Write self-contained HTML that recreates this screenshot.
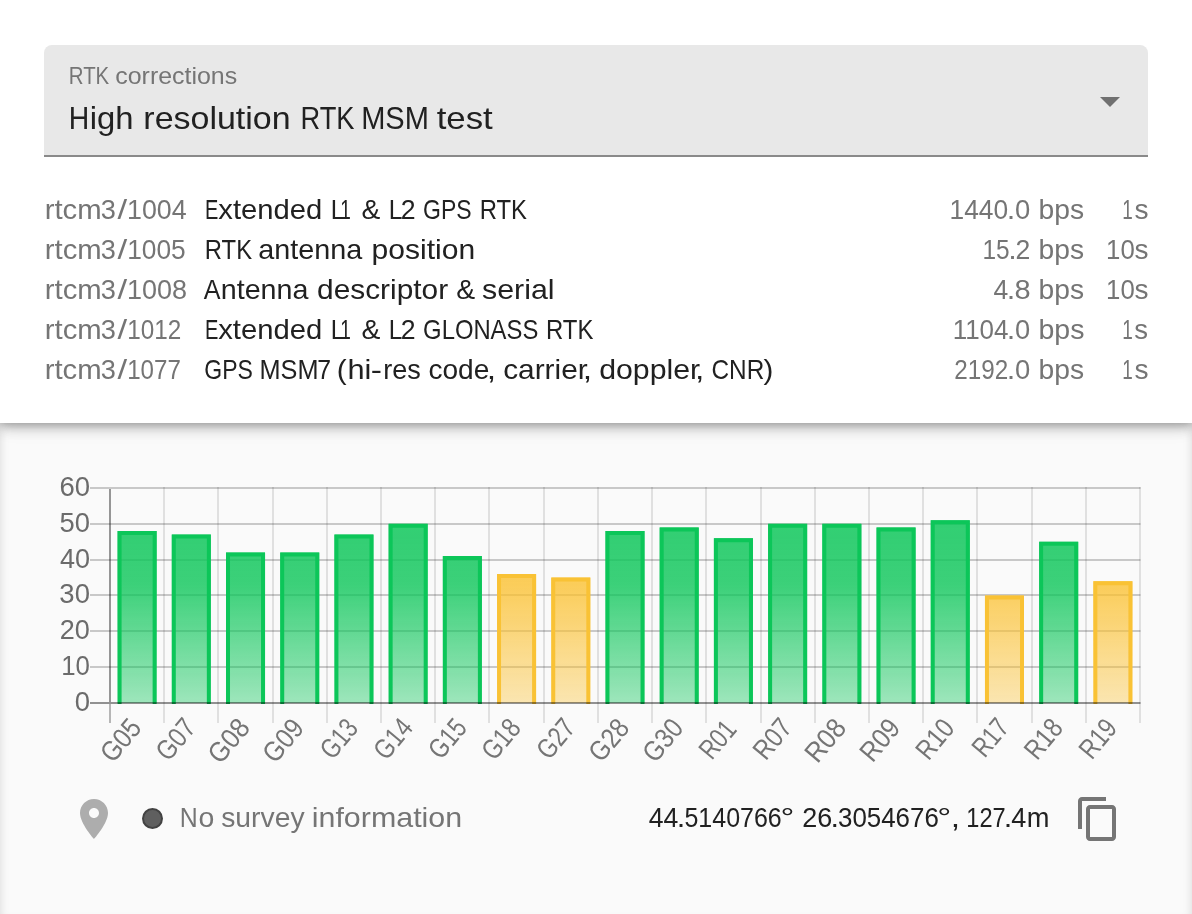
<!DOCTYPE html>
<html><head><meta charset="utf-8"><title>RTK</title>
<style>
html,body{margin:0;padding:0}
body{width:1192px;height:914px;overflow:hidden;background:#fafafa;font-family:"Liberation Sans",sans-serif;position:relative}
.low{position:absolute;left:0;top:423px;width:1192px;height:498px;background:#fafafa;box-shadow:inset 0 0 10px rgba(0,0,0,.14)}
.card{position:absolute;left:0;top:0;width:1192px;height:423px;background:#fff;box-shadow:0 4px 8px -2px rgba(0,0,0,.16),0 8px 10px 0 rgba(0,0,0,.11),0 2px 20px 0 rgba(0,0,0,.1)}
.sel{position:absolute;left:44px;top:45px;width:1104px;height:110px;background:#e8e8e8;border-radius:8px 8px 0 0;border-bottom:2px solid #8a8a8a}
.arrow{position:absolute;left:1100px;top:97px;width:0;height:0;border-left:10px solid transparent;border-right:10px solid transparent;border-top:10px solid #707070}
.layer{position:absolute;left:0;top:0;width:1192px;height:914px;will-change:transform}
.t{position:absolute;line-height:40px;white-space:pre}
.ln{position:absolute;left:0;width:0;height:0;line-height:40px;white-space:nowrap}
.w{position:absolute;left:0;top:0;line-height:40px;white-space:pre;transform-origin:0 0}
.chart{position:absolute;left:0;top:423px}
.xl{font-family:"Liberation Sans",sans-serif;font-size:28px;fill:#757575}
.pin{position:absolute;left:70px;top:795px;width:48px;height:48px}
.dot{position:absolute;left:142px;top:808px;width:17px;height:17px;border-radius:50%;background:#5f5f5f;border:2px solid #424242}
.copy{position:absolute;left:1074px;top:795px;width:48px;height:48px}
</style></head><body>
<div class="low"></div>
<div class="card"></div>
<div class="sel"></div>
<div class="arrow"></div>
<div class="layer">
<svg class="chart" width="1192" height="491" viewBox="0 423 1192 491">
<defs><linearGradient id="gg" gradientUnits="userSpaceOnUse" x1="0" y1="488" x2="0" y2="703"><stop offset="0" stop-color="#0cc659" stop-opacity="0.87"/><stop offset="0.45" stop-color="#0cc659" stop-opacity="0.8"/><stop offset="1" stop-color="#0cc659" stop-opacity="0.39"/></linearGradient><linearGradient id="gy" gradientUnits="userSpaceOnUse" x1="0" y1="488" x2="0" y2="703"><stop offset="0" stop-color="#fbc02d" stop-opacity="0.86"/><stop offset="0.45" stop-color="#fbc02d" stop-opacity="0.78"/><stop offset="1" stop-color="#fbc02d" stop-opacity="0.36"/></linearGradient></defs>
<rect x="109" y="704" width="2" height="19" fill="#000" fill-opacity="0.27"/>
<rect x="163" y="487" width="2" height="236" fill="#000" fill-opacity="0.1"/>
<rect x="217" y="487" width="2" height="236" fill="#000" fill-opacity="0.1"/>
<rect x="272" y="487" width="2" height="236" fill="#000" fill-opacity="0.1"/>
<rect x="326" y="487" width="2" height="236" fill="#000" fill-opacity="0.1"/>
<rect x="380" y="487" width="2" height="236" fill="#000" fill-opacity="0.1"/>
<rect x="434" y="487" width="2" height="236" fill="#000" fill-opacity="0.1"/>
<rect x="488" y="487" width="2" height="236" fill="#000" fill-opacity="0.1"/>
<rect x="543" y="487" width="2" height="236" fill="#000" fill-opacity="0.1"/>
<rect x="597" y="487" width="2" height="236" fill="#000" fill-opacity="0.1"/>
<rect x="651" y="487" width="2" height="236" fill="#000" fill-opacity="0.1"/>
<rect x="705" y="487" width="2" height="236" fill="#000" fill-opacity="0.1"/>
<rect x="760" y="487" width="2" height="236" fill="#000" fill-opacity="0.1"/>
<rect x="814" y="487" width="2" height="236" fill="#000" fill-opacity="0.1"/>
<rect x="868" y="487" width="2" height="236" fill="#000" fill-opacity="0.1"/>
<rect x="922" y="487" width="2" height="236" fill="#000" fill-opacity="0.1"/>
<rect x="976" y="487" width="2" height="236" fill="#000" fill-opacity="0.1"/>
<rect x="1031" y="487" width="2" height="236" fill="#000" fill-opacity="0.1"/>
<rect x="1085" y="487" width="2" height="236" fill="#000" fill-opacity="0.1"/>
<rect x="1139" y="487" width="2" height="236" fill="#000" fill-opacity="0.1"/>
<rect x="90" y="666" width="1050.5" height="2" fill="#000" fill-opacity="0.2"/>
<rect x="90" y="630" width="1050.5" height="2" fill="#000" fill-opacity="0.2"/>
<rect x="90" y="594" width="1050.5" height="2" fill="#000" fill-opacity="0.2"/>
<rect x="90" y="559" width="1050.5" height="2" fill="#000" fill-opacity="0.2"/>
<rect x="90" y="523" width="1050.5" height="2" fill="#000" fill-opacity="0.2"/>
<rect x="90" y="487" width="1050.5" height="2" fill="#000" fill-opacity="0.2"/>
<rect x="117.59" y="531.00" width="39.03" height="172.00" fill="url(#gg)"/>
<path d="M119.59 704.00V533.00H154.62V704.00" fill="none" stroke="#0cc659" stroke-width="4"/>
<rect x="171.80" y="534.58" width="39.03" height="168.42" fill="url(#gg)"/>
<path d="M173.80 704.00V536.58H208.83V704.00" fill="none" stroke="#0cc659" stroke-width="4"/>
<rect x="226.01" y="552.50" width="39.03" height="150.50" fill="url(#gg)"/>
<path d="M228.01 704.00V554.50H263.04V704.00" fill="none" stroke="#0cc659" stroke-width="4"/>
<rect x="280.22" y="552.50" width="39.03" height="150.50" fill="url(#gg)"/>
<path d="M282.22 704.00V554.50H317.25V704.00" fill="none" stroke="#0cc659" stroke-width="4"/>
<rect x="334.43" y="534.58" width="39.03" height="168.42" fill="url(#gg)"/>
<path d="M336.43 704.00V536.58H371.46V704.00" fill="none" stroke="#0cc659" stroke-width="4"/>
<rect x="388.64" y="523.83" width="39.03" height="179.17" fill="url(#gg)"/>
<path d="M390.64 704.00V525.83H425.67V704.00" fill="none" stroke="#0cc659" stroke-width="4"/>
<rect x="442.85" y="556.08" width="39.03" height="146.92" fill="url(#gg)"/>
<path d="M444.85 704.00V558.08H479.88V704.00" fill="none" stroke="#0cc659" stroke-width="4"/>
<rect x="497.06" y="574.00" width="39.03" height="129.00" fill="url(#gy)"/>
<path d="M499.06 704.00V576.00H534.09V704.00" fill="none" stroke="#f9c235" stroke-width="4"/>
<rect x="551.27" y="577.58" width="39.03" height="125.42" fill="url(#gy)"/>
<path d="M553.27 704.00V579.58H588.31V704.00" fill="none" stroke="#f9c235" stroke-width="4"/>
<rect x="605.48" y="531.00" width="39.03" height="172.00" fill="url(#gg)"/>
<path d="M607.48 704.00V533.00H642.52V704.00" fill="none" stroke="#0cc659" stroke-width="4"/>
<rect x="659.69" y="527.42" width="39.03" height="175.58" fill="url(#gg)"/>
<path d="M661.69 704.00V529.42H696.73V704.00" fill="none" stroke="#0cc659" stroke-width="4"/>
<rect x="713.91" y="538.17" width="39.03" height="164.83" fill="url(#gg)"/>
<path d="M715.91 704.00V540.17H750.94V704.00" fill="none" stroke="#0cc659" stroke-width="4"/>
<rect x="768.12" y="523.83" width="39.03" height="179.17" fill="url(#gg)"/>
<path d="M770.12 704.00V525.83H805.15V704.00" fill="none" stroke="#0cc659" stroke-width="4"/>
<rect x="822.33" y="523.83" width="39.03" height="179.17" fill="url(#gg)"/>
<path d="M824.33 704.00V525.83H859.36V704.00" fill="none" stroke="#0cc659" stroke-width="4"/>
<rect x="876.54" y="527.42" width="39.03" height="175.58" fill="url(#gg)"/>
<path d="M878.54 704.00V529.42H913.57V704.00" fill="none" stroke="#0cc659" stroke-width="4"/>
<rect x="930.75" y="520.25" width="39.03" height="182.75" fill="url(#gg)"/>
<path d="M932.75 704.00V522.25H967.78V704.00" fill="none" stroke="#0cc659" stroke-width="4"/>
<rect x="984.96" y="595.50" width="39.03" height="107.50" fill="url(#gy)"/>
<path d="M986.96 704.00V597.50H1021.99V704.00" fill="none" stroke="#f9c235" stroke-width="4"/>
<rect x="1039.17" y="541.75" width="39.03" height="161.25" fill="url(#gg)"/>
<path d="M1041.17 704.00V543.75H1076.20V704.00" fill="none" stroke="#0cc659" stroke-width="4"/>
<rect x="1093.38" y="581.17" width="39.03" height="121.83" fill="url(#gy)"/>
<path d="M1095.38 704.00V583.17H1130.41V704.00" fill="none" stroke="#f9c235" stroke-width="4"/>
<rect x="109" y="489" width="2" height="213" fill="#000" fill-opacity="0.4"/>
<rect x="90" y="702" width="1050.5" height="2" fill="#000" fill-opacity="0.42"/>
<text class="xl" x="-0.46" transform="translate(143.11 728.20) rotate(-50) scale(0.8783 1)" text-anchor="end">G05</text>
<text class="xl" x="-0.16" transform="translate(197.32 728.20) rotate(-50) scale(0.8419 1)" text-anchor="end">G07</text>
<text class="xl" x="-0.52" transform="translate(251.53 728.20) rotate(-50) scale(0.9039 1)" text-anchor="end">G08</text>
<text class="xl" x="-0.72" transform="translate(305.74 728.20) rotate(-50) scale(0.8814 1)" text-anchor="end">G09</text>
<text class="xl" x="-1.06" transform="translate(359.95 728.20) rotate(-50) scale(0.7859 1)" text-anchor="end">G13</text>
<text class="xl" x="0.01" transform="translate(414.16 728.20) rotate(-50) scale(0.8199 1)" text-anchor="end">G14</text>
<text class="xl" x="-0.56" transform="translate(468.37 728.20) rotate(-50) scale(0.7944 1)" text-anchor="end">G15</text>
<text class="xl" x="-0.64" transform="translate(522.58 728.20) rotate(-50) scale(0.8199 1)" text-anchor="end">G18</text>
<text class="xl" x="-0.19" transform="translate(576.79 728.20) rotate(-50) scale(0.8075 1)" text-anchor="end">G27</text>
<text class="xl" x="-0.57" transform="translate(631.00 728.20) rotate(-50) scale(0.8641 1)" text-anchor="end">G28</text>
<text class="xl" x="-0.79" transform="translate(685.21 728.20) rotate(-50) scale(0.8717 1)" text-anchor="end">G30</text>
<text class="xl" x="-3.16" transform="translate(739.42 728.20) rotate(-50) scale(0.7875 1)" text-anchor="end">R01</text>
<text class="xl" x="-0.16" transform="translate(793.63 728.20) rotate(-50) scale(0.8442 1)" text-anchor="end">R07</text>
<text class="xl" x="-0.52" transform="translate(847.84 728.20) rotate(-50) scale(0.9095 1)" text-anchor="end">R08</text>
<text class="xl" x="-0.71" transform="translate(902.05 728.20) rotate(-50) scale(0.8858 1)" text-anchor="end">R09</text>
<text class="xl" x="-0.86" transform="translate(956.26 728.20) rotate(-50) scale(0.8297 1)" text-anchor="end">R10</text>
<text class="xl" x="-0.23" transform="translate(1010.47 728.20) rotate(-50) scale(0.7759 1)" text-anchor="end">R17</text>
<text class="xl" x="-0.62" transform="translate(1064.68 728.20) rotate(-50) scale(0.8297 1)" text-anchor="end">R18</text>
<text class="xl" x="-0.83" transform="translate(1118.89 728.20) rotate(-50) scale(0.8118 1)" text-anchor="end">R19</text>
</svg>
<div class="ln" style="top:56px;font-size:24px;color:#757575"><span class="w" style="transform:translate(68.75px,0.28px) scaleX(0.8512)">RTK</span> <span class="w" style="transform:translate(115.26px,0.28px) scaleX(1.0387)">corrections</span></div>
<div class="ln" style="top:97px;font-size:32px;color:#212121"><span class="w" style="transform:translate(68.80px,0.51px) scaleX(0.8868)">H</span><span class="w" style="transform:translate(89.66px,0.51px) scaleX(1.0257)">igh</span> <span class="w" style="transform:translate(143.35px,0.51px) scaleX(1.0614)">resolution</span> <span class="w" style="transform:translate(300.47px,0.51px) scaleX(0.8515)">RTK</span> <span class="w" style="transform:translate(361.18px,0.51px) scaleX(0.9071)">MSM</span> <span class="w" style="transform:translate(436.71px,0.51px) scaleX(1.0868)">test</span></div>
<div class="ln" style="top:189px;font-size:28px;color:#757575"><span class="w" style="transform:translate(44.71px,0.79px) scaleX(1.0458)">rtcm</span><span class="w" style="transform:translate(100.73px,0.79px) scaleX(0.9702)">3</span><span class="w" style="transform:translate(117.59px,0.79px) scaleX(1.2355)">/</span><span class="w" style="transform:translate(127.03px,0.79px) scaleX(0.9573)">1004</span></div>
<div class="ln" style="top:189px;font-size:28px;color:#212121"><span class="w" style="transform:translate(205.11px,0.79px) scaleX(0.7139)">E</span><span class="w" style="transform:translate(218.28px,0.79px) scaleX(1.0431)">xtended</span> <span class="w" style="transform:translate(330.84px,0.79px) scaleX(0.8798)">L</span><span class="w" style="transform:translate(340.23px,0.79px) scaleX(0.6777)">1</span> <span class="w" style="transform:translate(361.51px,0.79px) scaleX(1.0060)">&amp;</span> <span class="w" style="transform:translate(388.68px,0.79px) scaleX(0.8798)">L</span><span class="w" style="transform:translate(400.81px,0.79px) scaleX(0.9525)">2</span> <span class="w" style="transform:translate(423.08px,0.79px) scaleX(0.8210)">GPS</span> <span class="w" style="transform:translate(479.70px,0.79px) scaleX(0.8528)">RTK</span></div>
<div class="ln" style="top:189px;font-size:28px;color:#757575"><span class="w" style="transform:translate(949.52px,0.79px) scaleX(0.9405)">1440</span><span class="w" style="transform:translate(1006.76px,0.79px) scaleX(1.0938)">.</span><span class="w" style="transform:translate(1014.91px,0.79px) scaleX(0.9782)">0</span> <span class="w" style="transform:translate(1038.56px,0.79px) scaleX(1.0095)">bps</span></div>
<div class="ln" style="top:189px;font-size:28px;color:#757575"><span class="w" style="transform:translate(1122.34px,0.79px) scaleX(0.6745)">1</span><span class="w" style="transform:translate(1134.39px,0.79px) scaleX(1.0035)">s</span></div>
<div class="ln" style="top:229px;font-size:28px;color:#757575"><span class="w" style="transform:translate(44.76px,0.79px) scaleX(1.0447)">rtcm</span><span class="w" style="transform:translate(100.78px,0.79px) scaleX(0.9677)">3</span><span class="w" style="transform:translate(117.55px,0.79px) scaleX(1.2425)">/</span><span class="w" style="transform:translate(127.13px,0.79px) scaleX(0.9400)">1005</span></div>
<div class="ln" style="top:229px;font-size:28px;color:#212121"><span class="w" style="transform:translate(204.80px,0.79px) scaleX(0.8508)">RTK</span> <span class="w" style="transform:translate(258.30px,0.79px) scaleX(1.0275)">antenna</span> <span class="w" style="transform:translate(371.51px,0.79px) scaleX(1.0742)">position</span></div>
<div class="ln" style="top:229px;font-size:28px;color:#757575"><span class="w" style="transform:translate(982.50px,0.79px) scaleX(0.8734)">15</span><span class="w" style="transform:translate(1008.19px,0.79px) scaleX(1.0938)">.</span><span class="w" style="transform:translate(1015.55px,0.79px) scaleX(0.9511)">2</span> <span class="w" style="transform:translate(1038.61px,0.79px) scaleX(1.0081)">bps</span></div>
<div class="ln" style="top:229px;font-size:28px;color:#757575"><span class="w" style="transform:translate(1106.12px,0.79px) scaleX(0.9202)">10</span><span class="w" style="transform:translate(1134.45px,0.79px) scaleX(0.9992)">s</span></div>
<div class="ln" style="top:269px;font-size:28px;color:#757575"><span class="w" style="transform:translate(44.76px,0.79px) scaleX(1.0453)">rtcm</span><span class="w" style="transform:translate(100.70px,0.79px) scaleX(0.9711)">3</span><span class="w" style="transform:translate(117.57px,0.79px) scaleX(1.2346)">/</span><span class="w" style="transform:translate(127.06px,0.79px) scaleX(0.9641)">1008</span></div>
<div class="ln" style="top:269px;font-size:28px;color:#212121"><span class="w" style="transform:translate(203.84px,0.79px) scaleX(0.8954)">A</span><span class="w" style="transform:translate(220.77px,0.79px) scaleX(1.0238)">ntenna</span> <span class="w" style="transform:translate(317.05px,0.79px) scaleX(1.0657)">descriptor</span> <span class="w" style="transform:translate(456.17px,0.79px) scaleX(1.0122)">&amp;</span> <span class="w" style="transform:translate(482.01px,0.79px) scaleX(1.0837)">serial</span></div>
<div class="ln" style="top:269px;font-size:28px;color:#757575"><span class="w" style="transform:translate(993.52px,0.79px) scaleX(0.9475)">4</span><span class="w" style="transform:translate(1006.67px,0.79px) scaleX(1.0938)">.</span><span class="w" style="transform:translate(1014.42px,0.79px) scaleX(1.0344)">8</span> <span class="w" style="transform:translate(1038.61px,0.79px) scaleX(1.0081)">bps</span></div>
<div class="ln" style="top:269px;font-size:28px;color:#757575"><span class="w" style="transform:translate(1106.12px,0.79px) scaleX(0.9202)">10</span><span class="w" style="transform:translate(1134.45px,0.79px) scaleX(0.9992)">s</span></div>
<div class="ln" style="top:309px;font-size:28px;color:#757575"><span class="w" style="transform:translate(44.76px,0.79px) scaleX(1.0453)">rtcm</span><span class="w" style="transform:translate(100.70px,0.79px) scaleX(0.9711)">3</span><span class="w" style="transform:translate(117.57px,0.79px) scaleX(1.2346)">/</span><span class="w" style="transform:translate(127.19px,0.79px) scaleX(0.8669)">1012</span></div>
<div class="ln" style="top:309px;font-size:28px;color:#212121"><span class="w" style="transform:translate(205.07px,0.79px) scaleX(0.7157)">E</span><span class="w" style="transform:translate(218.26px,0.79px) scaleX(1.0436)">xtended</span> <span class="w" style="transform:translate(330.66px,0.79px) scaleX(0.8735)">L</span><span class="w" style="transform:translate(340.16px,0.79px) scaleX(0.6801)">1</span> <span class="w" style="transform:translate(361.41px,0.79px) scaleX(1.0095)">&amp;</span> <span class="w" style="transform:translate(388.79px,0.79px) scaleX(0.8735)">L</span><span class="w" style="transform:translate(400.81px,0.79px) scaleX(0.9508)">2</span> <span class="w" style="transform:translate(423.12px,0.79px) scaleX(0.8506)">GLONASS</span> <span class="w" style="transform:translate(546.04px,0.79px) scaleX(0.8538)">RTK</span></div>
<div class="ln" style="top:309px;font-size:28px;color:#757575"><span class="w" style="transform:translate(952.63px,0.79px) scaleX(0.9283)">1104</span><span class="w" style="transform:translate(1006.71px,0.79px) scaleX(1.0938)">.</span><span class="w" style="transform:translate(1014.93px,0.79px) scaleX(0.9740)">0</span> <span class="w" style="transform:translate(1038.50px,0.79px) scaleX(1.0182)">bps</span></div>
<div class="ln" style="top:309px;font-size:28px;color:#757575"><span class="w" style="transform:translate(1122.27px,0.79px) scaleX(0.6773)">1</span><span class="w" style="transform:translate(1134.33px,0.79px) scaleX(0.9832)">s</span></div>
<div class="ln" style="top:349px;font-size:28px;color:#757575"><span class="w" style="transform:translate(44.71px,0.79px) scaleX(1.0458)">rtcm</span><span class="w" style="transform:translate(100.73px,0.79px) scaleX(0.9702)">3</span><span class="w" style="transform:translate(117.59px,0.79px) scaleX(1.2355)">/</span><span class="w" style="transform:translate(127.17px,0.79px) scaleX(0.8612)">1077</span></div>
<div class="ln" style="top:349px;font-size:28px;color:#212121"><span class="w" style="transform:translate(204.32px,0.79px) scaleX(0.8212)">GPS</span> <span class="w" style="transform:translate(259.51px,0.79px) scaleX(0.9022)">MSM</span><span class="w" style="transform:translate(317.15px,0.79px) scaleX(0.8844)">7</span> <span class="w" style="transform:translate(336.76px,0.79px) scaleX(1.0590)">(</span><span class="w" style="transform:translate(347.46px,0.79px) scaleX(1.0977)">hi</span><span class="w" style="transform:translate(370.87px,0.79px) scaleX(1.2025)">-</span><span class="w" style="transform:translate(383.21px,0.79px) scaleX(0.9660)">res</span> <span class="w" style="transform:translate(428.39px,0.79px) scaleX(1.0029)">code</span><span class="w" style="transform:translate(486.67px,0.79px) scaleX(1.2031)">,</span> <span class="w" style="transform:translate(503.15px,0.79px) scaleX(1.0659)">carrier</span><span class="w" style="transform:translate(582.71px,0.79px) scaleX(1.2031)">,</span> <span class="w" style="transform:translate(599.18px,0.79px) scaleX(1.0814)">doppler</span><span class="w" style="transform:translate(695.07px,0.79px) scaleX(1.2031)">,</span> <span class="w" style="transform:translate(711.50px,0.79px) scaleX(0.8693)">CNR</span><span class="w" style="transform:translate(763.42px,0.79px) scaleX(1.0526)">)</span></div>
<div class="ln" style="top:349px;font-size:28px;color:#757575"><span class="w" style="transform:translate(954.18px,0.79px) scaleX(0.8666)">2192</span><span class="w" style="transform:translate(1006.76px,0.79px) scaleX(1.0938)">.</span><span class="w" style="transform:translate(1014.91px,0.79px) scaleX(0.9782)">0</span> <span class="w" style="transform:translate(1038.56px,0.79px) scaleX(1.0095)">bps</span></div>
<div class="ln" style="top:349px;font-size:28px;color:#757575"><span class="w" style="transform:translate(1122.34px,0.79px) scaleX(0.6745)">1</span><span class="w" style="transform:translate(1134.39px,0.79px) scaleX(1.0035)">s</span></div>
<div class="ln" style="top:798px;font-size:28px;color:#757575"><span class="w" style="transform:translate(179.76px,0.19px) scaleX(0.8880)">N</span><span class="w" style="transform:translate(198.38px,0.19px) scaleX(1.0156)">o</span> <span class="w" style="transform:translate(221.21px,0.19px) scaleX(1.0106)">survey</span> <span class="w" style="transform:translate(311.75px,0.19px) scaleX(1.0858)">information</span></div>
<div class="ln" style="top:798px;font-size:28px;color:#212121"><span class="w" style="transform:translate(648.71px,0.19px) scaleX(0.9506)">44</span><span class="w" style="transform:translate(676.73px,0.19px) scaleX(1.0938)">.</span><span class="w" style="transform:translate(684.43px,0.19px) scaleX(0.8926)">5140766</span><span class="w" style="transform:translate(780.52px,0.19px) scaleX(1.2396)">°</span> <span class="w" style="transform:translate(802.34px,0.19px) scaleX(0.9640)">26</span><span class="w" style="transform:translate(830.58px,0.19px) scaleX(1.0938)">.</span><span class="w" style="transform:translate(837.98px,0.19px) scaleX(0.9250)">3054676</span><span class="w" style="transform:translate(937.17px,0.19px) scaleX(1.2520)">°</span><span class="w" style="transform:translate(950.65px,0.19px) scaleX(1.2031)">,</span> <span class="w" style="transform:translate(966.30px,0.19px) scaleX(0.8416)">127</span><span class="w" style="transform:translate(1003.83px,0.19px) scaleX(1.0938)">.</span><span class="w" style="transform:translate(1011.19px,0.19px) scaleX(0.9653)">4</span><span class="w" style="transform:translate(1026.64px,0.19px) scaleX(0.9729)">m</span></div>
<div class="ln" style="top:681px;font-size:28px;color:#6b6b6b"><span class="w" style="transform:translate(74.81px,0.89px) scaleX(0.9802)">0</span></div>
<div class="ln" style="top:646px;font-size:28px;color:#6b6b6b"><span class="w" style="transform:translate(61.21px,0.06px) scaleX(0.9220)">10</span></div>
<div class="ln" style="top:610px;font-size:28px;color:#6b6b6b"><span class="w" style="transform:translate(59.78px,0.23px) scaleX(0.9655)">20</span></div>
<div class="ln" style="top:574px;font-size:28px;color:#6b6b6b"><span class="w" style="transform:translate(59.37px,0.39px) scaleX(0.9814)">30</span></div>
<div class="ln" style="top:538px;font-size:28px;color:#6b6b6b"><span class="w" style="transform:translate(59.95px,0.56px) scaleX(0.9659)">40</span></div>
<div class="ln" style="top:502px;font-size:28px;color:#6b6b6b"><span class="w" style="transform:translate(59.47px,0.73px) scaleX(0.9789)">50</span></div>
<div class="ln" style="top:466px;font-size:28px;color:#6b6b6b"><span class="w" style="transform:translate(59.48px,0.89px) scaleX(0.9827)">60</span></div>
</div>
<svg class="pin" viewBox="0 0 24 24"><path fill="#adadad" d="M12 2C8.13 2 5 5.13 5 9c0 5.25 7 13 7 13s7-7.750 7-13c0-3.870-3.130-7-7-7zm0 9.500c-1.380 0-2.500-1.120-2.500-2.500s1.120-2.500 2.500-2.500 2.500 1.120 2.500 2.500-1.120 2.500-2.500 2.500z"/></svg>
<div class="dot"></div>
<svg class="copy" viewBox="0 0 24 24"><path fill="#757575" d="M16 1H4c-1.100 0-2 .900-2 2v14h2V3h12V1zm3 4H8c-1.100 0-2 .900-2 2v14c0 1.100.900 2 2 2h11c1.100 0 2-.900 2-2V7c0-1.100-.900-2-2-2zm0 16H8V7h11v14z"/></svg>
</body></html>
